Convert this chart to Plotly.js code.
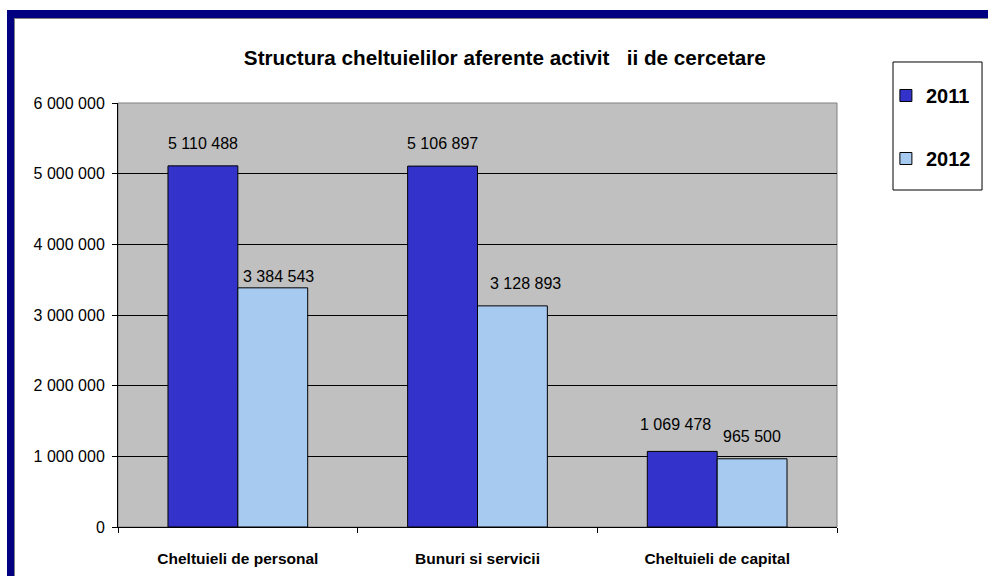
<!DOCTYPE html>
<html>
<head>
<meta charset="utf-8">
<script src="https://cdn.plot.ly/plotly-3.0.1.min.js"></script>
<style>
  html, body { margin: 0; background: #fff; overflow: hidden; }
  #frame {
    position: absolute; left: 7px; top: 10px; width: 974px; height: 558px;
    border-left: 7px solid #000080; border-top: 8px solid #000080;
    box-shadow: inset 1px 1px 0 #808080;
  }
  #plot { position: absolute; left: 0; top: 0; width: 988px; height: 576px; }
</style>
</head>
<body>
<div id="frame"></div>
<div id="plot"></div>
<script>
// categorii si valori (lei)
var categories = ["Cheltuieli de personal", "Bunuri si servicii", "Cheltuieli de capital"];
var years = ["2011", "2012"];
var values2011 = [5110488, 5106897, 1069478];
var values2012 = [3384543, 3128893, 965500];
var yTicks = [0, 1000000, 2000000, 3000000, 4000000, 5000000, 6000000];

var colors = ["#3333cc", "#a6caf0"];
var font = "Liberation Sans, Arial, sans-serif";

// mici deplasari ale etichetelor, ca in original (px)
var labelDx = [[0, 0, -7], [6, 13, 0]];
var labelDy = [[0, 0, 4], [-11, 0, 0]];

function fmt(v) {
  return String(v).replace(/\B(?=(\d{3})+(?!\d))/g, " ");
}

var series = [values2011, values2012];
var traces = series.map(function (vals, i) {
  return {
    type: "bar",
    name: years[i],
    x: categories,
    y: vals,
    legendgroup: years[i],
    marker: { color: colors[i], line: { color: "#000", width: 1 } },
    hoverinfo: "x+y"
  };
});

// etichetele de date, deasupra barelor
var annotations = [];
series.forEach(function (vals, i) {
  vals.forEach(function (v, j) {
    annotations.push({
      x: categories[j], y: v, xref: "x", yref: "y",
      text: fmt(v), showarrow: false,
      xshift: (i == 0 ? -35 : 35) + labelDx[i][j],
      yshift: 12 + labelDy[i][j],
      yanchor: "bottom",
      font: { family: font, size: 16, color: "#000" }
    });
  });
});

var layout = {
  width: 988, height: 576,
  margin: { l: 118, r: 151, t: 103, b: 49, autoexpand: false },
  paper_bgcolor: "rgba(0,0,0,0)",
  plot_bgcolor: "#c0c0c0",
  font: { family: font, color: "#000" },
  title: {
    text: "Structura cheltuielilor aferente activit\u00a0\u00a0\u00a0ii de cercetare",
    font: { family: font, size: 20.7, weight: "bold", color: "#000" },
    x: 0.511, xanchor: "center", y: 0.9, yanchor: "middle"
  },
  barmode: "group",
  bargap: 0.417,
  bargroupgap: 0,
  showlegend: true,
  legend: {
    x: 1.068, y: 1.0637, xanchor: "left", yanchor: "top",
    borderwidth: 0, bgcolor: "rgba(0,0,0,0)",
    tracegroupgap: 34,
    font: { family: font, size: 20, weight: "bold", color: "#000" }
  },
  xaxis: {
    type: "category",
    tickson: "boundaries",
    ticks: "outside", ticklen: 5, tickcolor: "#000",
    showline: true, linecolor: "#000", linewidth: 1,
    showgrid: false,
    ticklabelstandoff: 17,
    tickfont: { family: font, size: 15.5, weight: "bold", color: "#000" }
  },
  yaxis: {
    range: [0, 6000000],
    tickvals: yTicks,
    ticktext: yTicks.map(fmt),
    ticks: "outside", ticklen: 5, tickcolor: "#000",
    showline: true, linecolor: "#000", linewidth: 1,
    gridcolor: "#000", gridwidth: 1,
    zeroline: false,
    ticklabelstandoff: 4,
    tickfont: { family: font, size: 16, color: "#000" }
  },
  shapes: [
    {
      type: "rect", xref: "paper", yref: "paper", x0: 0, x1: 1, y0: 0, y1: 1,
      line: { color: "#808080", width: 1 }, layer: "below"
    },
    {
      // cadrul legendei
      type: "rect", xref: "paper", yref: "paper",
      x0: 1.0779, x1: 1.2017, y0: 0.7948, y1: 1.0967,
      line: { color: "#000", width: 1 }, fillcolor: "#fff", layer: "below"
    }
  ],
  annotations: annotations
};

Plotly.newPlot("plot", traces, layout, { displayModeBar: false });
</script>
</body>
</html>
